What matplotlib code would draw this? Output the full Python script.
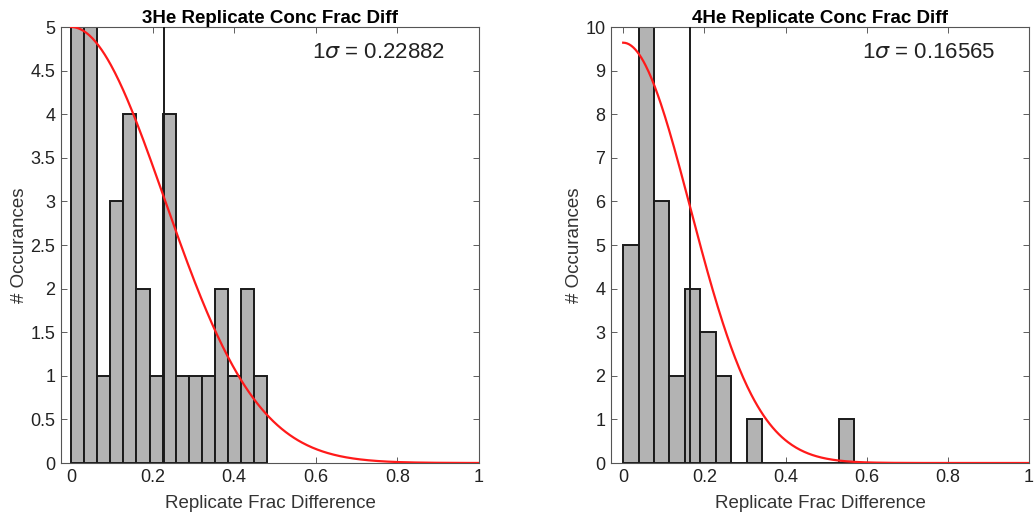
import numpy as np
import matplotlib
matplotlib.use('Agg')
import matplotlib.pyplot as plt

plt.rcParams['font.family'] = ['Liberation Sans', 'DejaVu Sans']

# 3He histogram
he3_width = 0.0321
he3_counts = [5, 5, 1, 3, 4, 2, 1, 4, 1, 1, 1, 2, 1, 2, 1]
he3_sigma = 0.22882
he3_peak = 5.0

# 4He histogram
he4_width = 0.038
he4_counts = [5, 10, 6, 2, 4, 3, 2, 0, 1, 0, 0, 0, 0, 0, 1]
he4_sigma = 0.16565
he4_peak = 9.64

panels = [
    ('3He Replicate Conc Frac Diff', he3_width, he3_counts, he3_sigma, he3_peak, 5, np.arange(0, 5.01, 0.5), -0.0245),
    ('4He Replicate Conc Frac Diff', he4_width, he4_counts, he4_sigma, he4_peak, 10, np.arange(0, 11, 1), -0.03),
]

fig = plt.figure(figsize=(10.35, 5.17), dpi=100)
boxes = [[61/1035, 54/517, 418/1035, 436/517], [611/1035, 54/517, 418/1035, 436/517]]

def fmt(v):
    return '%g' % v

for box, (title, w, counts, sig, peak, ymax, yt, x0) in zip(boxes, panels):
    ax = fig.add_axes(box)
    edges = np.arange(len(counts)) * w
    ax.bar(edges, counts, width=w, align='edge', color='#b3b3b3', edgecolor='#1a1a1a', linewidth=1.4, zorder=2)
    xx = np.linspace(0, 1, 400)
    ax.plot(xx, peak * np.exp(-0.5 * (xx / sig) ** 2), color='#ff1a1a', lw=1.6, zorder=4)
    ax.axvline(sig, color='#1a1a1a', lw=1.4, zorder=3)
    ax.set_xlim(x0, 1)
    ax.set_ylim(0, ymax)
    ax.set_xticks(np.arange(0, 1.01, 0.2))
    ax.set_xticklabels([fmt(round(v, 1)) for v in np.arange(0, 1.01, 0.2)])
    ax.set_yticks(yt)
    ax.set_yticklabels([fmt(round(v, 1)) for v in yt])
    ax.tick_params(direction='in', top=True, right=True, length=4, width=0.6,
                   color='#444444', labelsize=13, labelcolor='#222222', pad=4)
    for s in ax.spines.values():
        s.set_color('#555555')
        s.set_linewidth(0.8)
    ax.set_title(title, fontsize=13.5, fontweight='bold', pad=3)
    ax.set_xlabel('Replicate Frac Difference', fontsize=13.5, color='#333333', labelpad=7)
    ax.set_ylabel('# Occurances', fontsize=13.5, color='#333333', labelpad=2)
    ax.text(0.92, 0.942, r'1$\sigma$ = %.5f' % sig, transform=ax.transAxes,
            ha='right', va='center', fontsize=16, color='#222222')

fig.savefig('out.png', dpi=100)
